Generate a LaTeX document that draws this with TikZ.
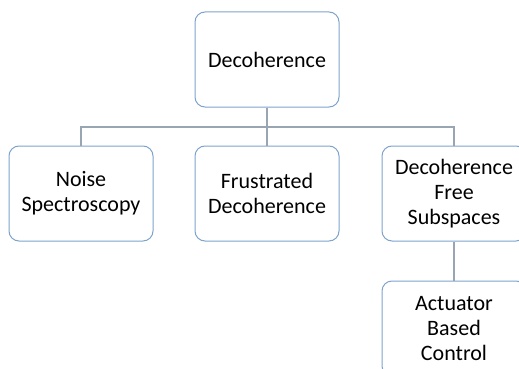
\documentclass[tikz,border=0pt]{standalone}
\usepackage{fontspec}
\setmainfont{Carlito}
\usetikzlibrary{positioning}
\definecolor{BoxBorder}{HTML}{7EA3CC}
\definecolor{LinkGray}{HTML}{9AA5B4}
\tikzset{
  topic/.style={draw=BoxBorder, line width=1pt, fill=white, rounded corners=10pt,
    minimum width=144pt, minimum height=95pt, align=center,
    font=\fontsize{22}{25}\selectfont},
  link/.style={draw=LinkGray, line width=1.2pt}
}
\begin{document}
\begin{tikzpicture}[x=1pt, y=-1pt]
        % frame of the reference, boxes on the right run past it
        \clip (0,0) rectangle (519,369);
        \fill[white] (0,0) rectangle (519,369);
        % root and branches
        \node[topic] (root) at (267,59.5) {Decoherence};
        \node[topic] (noise) at (81,193.5) {Noise\\Spectroscopy};
        \node[topic] (frust) at (267,193.5) {Frustrated\\Decoherence};
        \node[topic] (dfs) at (454,193.5) {Decoherence\\Free\\Subspaces};
        \node[topic, below=39pt of dfs] (actuator) {Actuator\\Based\\Control};
        % tree connectors
        \coordinate (bus) at (267,127);
        \draw[link] (root.south) -- (frust.north);
        \draw[link] (noise.north) |- (bus) -| (dfs.north);
        \draw[link] (dfs.south) -- (actuator.north);
      \end{tikzpicture}
\end{document}
